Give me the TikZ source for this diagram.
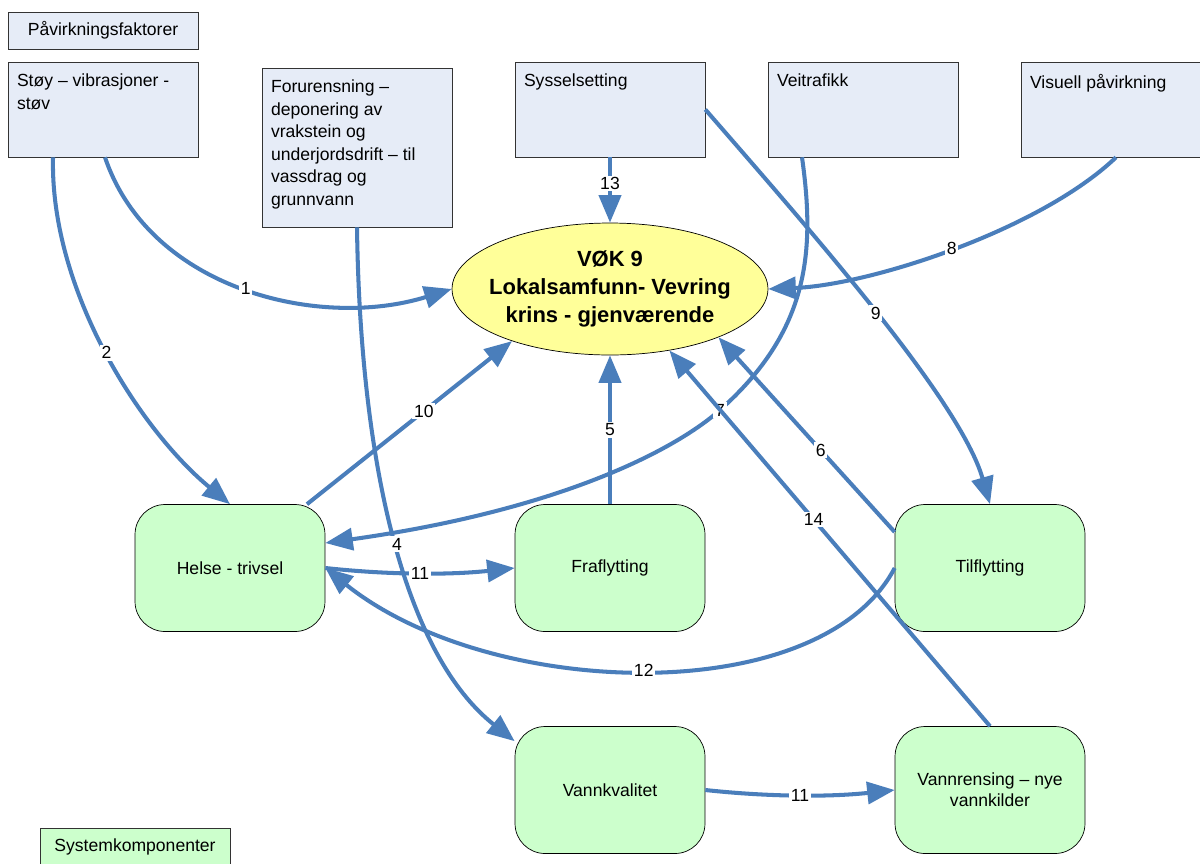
\documentclass[tikz,border=0pt]{standalone}
\usepackage{fontspec}
\setmainfont{Liberation Sans}
\usetikzlibrary{arrows.meta,shapes.geometric,calc}
\definecolor{faktorfill}{RGB}{230,236,247}
\definecolor{kompfill}{RGB}{204,255,204}
\definecolor{vokfill}{RGB}{255,255,153}
\definecolor{pilblue}{RGB}{74,126,187}

\begin{document}
\begin{tikzpicture}[x=0.02cm,y=-0.02cm,
	faktor/.style={draw=black!80,fill=faktorfill,rectangle,inner sep=0,minimum width=3.8cm,minimum height=1.9cm},
	ftext/.style={anchor=north west,inner sep=0,align=left,font=\fontsize{10}{12.8}\selectfont},
	komp/.style={draw=black,fill=kompfill,rectangle,rounded corners=0.6cm,minimum width=3.8cm,minimum height=2.54cm,align=center,font=\fontsize{10}{12}\selectfont},
	legend/.style={draw=black!80,rectangle,minimum width=3.8cm,minimum height=0.74cm,font=\fontsize{10}{12}\selectfont},
	pil/.style={draw=pilblue,line width=2.3pt,-{Triangle[length=0.55cm,width=0.44cm]}},
	lbl/.style={fill=white,inner sep=1pt,font=\fontsize{10}{12}\selectfont}]
	\clip (0,0) rectangle (1200,863);
	% forklaring
	\node[legend,fill=faktorfill] (pf) at (103,30.5) {Påvirkningsfaktorer};
	\node[legend,fill=kompfill] (sk) at (135,846.5) {Systemkomponenter};
	% påvirkningsfaktorer
	\node[faktor] (stoy) at (103,109.5) {};
	\node[faktor,minimum height=3.18cm] (forur) at (357,147.5) {};
	\node[faktor] (sys) at (610,109.5) {};
	\node[faktor] (vei) at (863,109.5) {};
	\node[faktor] (vis) at (1116,109.5) {};
	\node[ftext] (stoytxt) at ($(stoy.north west)+(9,12)$) {Støy – vibrasjoner -\\støv};
	\node[ftext] (forurtxt) at ($(forur.north west)+(9,12)$) {Forurensning –\\deponering av\\vrakstein og\\underjordsdrift – til\\vassdrag og\\grunnvann};
	\node[ftext] (systxt) at ($(sys.north west)+(9,12)$) {Sysselsetting};
	\node[ftext] (veitxt) at ($(vei.north west)+(9,12)$) {Veitrafikk};
	\node[ftext] (vistxt) at ($(vis.north west)+(9,12)$) {Visuell påvirkning};
	% VØK
	\node[ellipse,draw=black,fill=vokfill,minimum width=6.32cm,minimum height=2.64cm,inner sep=0] (vok) at (610,289) {};
	\node[align=center,font=\fontsize{12.5}{16}\selectfont\bfseries] (voktxt) at (vok.center) {VØK 9\\Lokalsamfunn- Vevring\\krins - gjenværende};
	% systemkomponenter
	\node[komp] (helse) at (230,568) {Helse - trivsel};
	\node[komp] (fra) at (610,568) {Fraflytting};
	\node[komp] (til) at (990,568) {Tilflytting};
	\node[komp] (vk) at (610,790) {Vannkvalitet};
	\node[komp] (vr) at (990,790) {Vannrensing – nye\\vannkilder};
	% relasjoner
	\draw[pil] ([xshift=0.04cm]stoy.south) .. controls (150,290) and (320,330) .. (vok.west) node[lbl,pos=0.5] {1};
	\draw[pil] ([xshift=-1cm]stoy.south) .. controls (50,290) and (140,430) .. (helse.north) node[lbl,pos=0.5] {2};
	\draw[pil] (sys.south) -- (vok.north) node[lbl,pos=0.4] {13};
	\draw[pil] (vis.south) .. controls (1040,230) and (870,285) .. (vok.east) node[lbl,pos=0.5] {8};
	\draw[pil] (sys.east) .. controls (810,230) and (960,400) .. (til.north) node[lbl,pos=0.5] {9};
	\draw[pil] ([xshift=-1.22cm]vei.south) .. controls (815,250) and (810,330) .. (720,410) node[lbl] {7} .. controls (675,450) and (560,510) .. ([yshift=0.5cm]helse.east);
	\draw[pil] ([xshift=1.54cm]helse.north) -- (vok.208) node[lbl,pos=0.57] {10};
	\draw[pil] (fra.north) -- (vok.south) node[lbl,pos=0.5] {5};
	\draw[pil] ([yshift=0.72cm]til.west) -- (vok.336) node[lbl,pos=0.42] {6};
	\draw[pil] (vr.north) -- (vok.314) node[lbl,pos=0.55] {14};
	\draw[pil] (forur.south) .. controls (360,450) and (400,650) .. ([yshift=-0.3cm]vk.north west) node[lbl,pos=0.52] {4};
	\draw[pil] (helse.east) .. controls (390,575) and (450,575) .. (fra.west) node[lbl,pos=0.5] {11};
	\draw[pil] (til.west) .. controls (820,710) and (490,700) .. (helse.east) node[lbl,pos=0.5] {12};
	\draw[pil] (vk.east) .. controls (770,797) and (830,797) .. (vr.west) node[lbl,pos=0.5] {11};
\end{tikzpicture}
\end{document}
